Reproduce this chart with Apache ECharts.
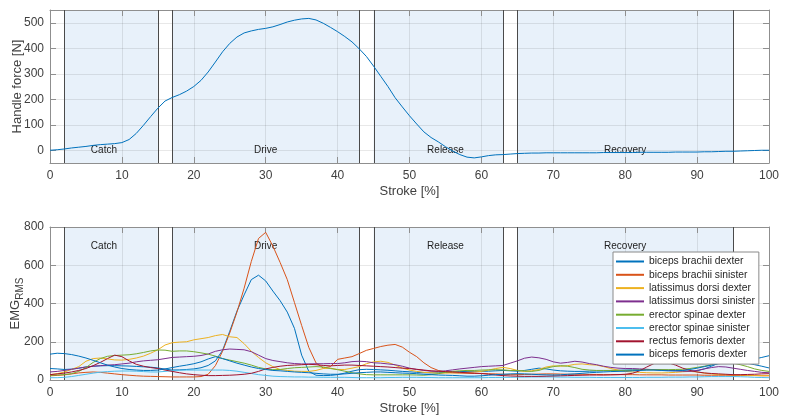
<!DOCTYPE html>
<html>
<head>
<meta charset="utf-8">
<script src="https://cdn.jsdelivr.net/npm/echarts@6/dist/echarts.min.js"></script>
<style>html,body{margin:0;padding:0;background:#fff;}#c{width:787px;height:419px;}</style>
</head>
<body>
<div id="c"></div>
<script>
// ---------- data ----------
const strokeX = Array.from({length: 101}, (_, i) => i);
const handleForce = [
  0, 2, 5, 9, 12, 15, 19, 22, 24, 26,
  30, 42, 66, 98, 132, 165, 193, 207, 218, 232,
  250, 274, 307, 346, 386, 419, 444, 460, 468, 474,
  478, 484, 493, 503, 510, 515, 517, 511, 498, 482,
  465, 446, 425, 398, 368, 330, 290, 250, 206, 170,
  135, 103, 72, 50, 33, 14, -3, -17, -27, -30,
  -26, -21, -18, -17, -15, -13, -12, -11, -11, -10,
  -10, -10, -10, -10, -10, -10, -10, -9, -9, -9,
  -9, -9, -8, -8, -8, -8, -8, -7, -7, -7,
  -7, -6, -6, -5, -4, -4, -3, -2, -1, 0,
  0
];
const emgNames = ['biceps brachii dexter', 'biceps brachii sinister', 'latissimus dorsi dexter',
  'latissimus dorsi sinister', 'erector spinae dexter', 'erector spinae sinister',
  'rectus femoris dexter', 'biceps femoris dexter'];
const bicepsBrachiiDex = [
  60, 58, 55, 57, 62, 68, 72, 74, 75, 75,
  74, 73, 71, 69, 67, 63, 57, 52, 53, 55,
  58, 64, 76, 100, 155, 255, 360, 445, 525, 548,
  518, 465, 415, 355, 270, 130, 45, 25, 23, 24,
  28, 36, 46, 54, 56, 55, 53, 51, 48, 45,
  43, 40, 38, 37, 38, 40, 42, 44, 45, 45,
  45, 46, 48, 50, 48, 46, 50, 56, 62, 58,
  52, 48, 46, 45, 45, 46, 47, 48, 50, 51,
  52, 53, 54, 54, 54, 53, 52, 50, 48, 46,
  48, 58, 72, 88, 96, 98, 95, 88, 80, 72,
  63
];
const bicepsBrachiiSin = [
  22, 24, 27, 32, 37, 40, 42, 40, 36, 32,
  28, 25, 22, 20, 19, 18, 17, 16, 16, 16,
  16, 18, 30, 75, 150, 246, 355, 480, 620, 740,
  772, 700, 615, 525, 405, 285, 170, 89, 63, 70,
  108, 115, 122, 138, 155, 165, 175, 182, 186, 172,
  145, 122, 90, 65, 50, 42, 38, 36, 35, 34,
  34, 33, 32, 30, 28, 28, 29, 30, 31, 32,
  32, 31, 30, 30, 30, 29, 29, 28, 28, 28,
  28, 28, 27, 27, 27, 27, 26, 26, 26, 26,
  26, 25, 25, 25, 25, 24, 24, 23, 23, 22,
  22
];
const latDorsiDex = [
  28, 33, 42, 55, 70, 98, 112, 115, 110, 105,
  104, 108, 115, 125, 140, 158, 183, 195, 198, 200,
  210, 216, 222, 232, 238, 226, 222, 190, 150, 118,
  90, 70, 55, 50, 46, 45, 45, 50, 60, 62,
  55, 55, 62, 70, 85, 95, 98, 92, 78, 62,
  52, 45, 40, 38, 36, 36, 37, 38, 40, 42,
  45, 52, 60, 66, 60, 50, 45, 48, 55, 68,
  74, 72, 75, 82, 84, 80, 78, 70, 60, 52,
  45, 42, 40, 38, 37, 37, 38, 40, 43, 45,
  42, 36, 32, 29, 28, 27, 26, 25, 24, 23,
  23
];
const latDorsiSin = [
  42, 45, 50, 56, 62, 68, 72, 75, 78, 80,
  84, 88, 95, 100, 103, 106, 112, 118, 120, 122,
  124, 128, 136, 150, 158, 162, 160, 158, 148, 130,
  112, 102, 96, 90, 86, 84, 84, 85, 85, 86,
  86, 90, 96, 98, 96, 90, 88, 84, 80, 72,
  62, 55, 50, 46, 45, 48, 53, 58, 62, 66,
  70, 72, 74, 76, 88, 100, 114, 120, 116, 108,
  95, 88, 92, 98, 94, 86, 80, 72, 66, 62,
  60, 60, 58, 56, 54, 52, 50, 48, 46, 45,
  50, 58, 65, 70, 68, 62, 56, 50, 45, 40,
  38
];
const erectorSpinaeDex = [
  25, 26, 28, 33, 45, 65, 92, 112, 124, 128,
  130, 132, 137, 144, 152, 157, 156, 150, 152, 152,
  148, 142, 135, 125, 112, 104, 96, 88, 78, 66,
  58, 54, 55, 60, 64, 66, 68, 70, 68, 60,
  54, 46, 38, 32, 28, 27, 27, 27, 27, 27,
  27, 26, 25, 28, 33, 40, 45, 48, 50, 50,
  52, 53, 54, 53, 50, 50, 47, 45, 50, 62,
  70, 75, 72, 65, 56, 52, 50, 50, 50, 50,
  50, 51, 52, 53, 54, 54, 54, 55, 56, 60,
  66, 72, 80, 88, 90, 88, 80, 70, 58, 50,
  45
];
const erectorSpinaeSin = [
  12, 12, 14, 18, 24, 30, 36, 41, 44, 46,
  47, 47, 46, 44, 42, 42, 45, 49, 51, 52,
  52, 52, 52, 52, 52, 50, 46, 40, 34, 28,
  24, 20, 18, 17, 16, 16, 15, 15, 14, 14,
  14, 14, 13, 12, 12, 12, 12, 13, 13, 14,
  14, 14, 13, 13, 12, 12, 12, 12, 12, 12,
  12, 13, 13, 14, 14, 15, 15, 16, 16, 16,
  16, 15, 15, 14, 14, 14, 13, 13, 13, 13,
  13, 13, 13, 14, 14, 14, 15, 15, 15, 16,
  16, 17, 18, 18, 18, 18, 17, 16, 14, 13,
  12
];
const rectusFemorisDex = [
  28, 32, 36, 42, 50, 60, 75, 92, 112, 130,
  122, 100, 82, 72, 65, 60, 52, 45, 38, 32,
  28, 25, 23, 23, 24, 25, 27, 30, 35, 45,
  58, 66, 72, 76, 78, 80, 82, 80, 76, 74,
  76, 78, 78, 76, 74, 72, 70, 68, 65, 62,
  60, 56, 52, 48, 46, 44, 42, 40, 38, 36,
  34, 30, 26, 23, 21, 20, 19, 19, 19, 20,
  21, 22, 23, 24, 25, 26, 26, 26, 27, 28,
  30, 35, 48, 68, 86, 93, 90, 78, 62, 50,
  42, 37, 34, 32, 30, 28, 28, 29, 30, 32,
  33
];
const bicepsFemorisDex = [
  135, 140, 138, 133, 125, 115, 103, 90, 78, 68,
  60, 55, 52, 50, 50, 52, 58, 65, 72, 78,
  85, 95, 110, 122, 112, 100, 88, 78, 68, 60,
  55, 50, 48, 45, 42, 40, 38, 35, 32, 30,
  30, 32, 35, 38, 40, 42, 42, 40, 38, 36,
  35, 33, 30, 28, 26, 25, 24, 22, 20, 20,
  22, 25, 28, 30, 32, 33, 32, 30, 28, 27,
  26, 27, 30, 32, 35, 38, 40, 42, 44, 45,
  46, 48, 50, 52, 52, 50, 48, 48, 50, 55,
  62, 70, 78, 85, 90, 95, 100, 105, 110, 118,
  127
];
const emgValues = [bicepsBrachiiDex, bicepsBrachiiSin, latDorsiDex, latDorsiSin,
  erectorSpinaeDex, erectorSpinaeSin, rectusFemorisDex, bicepsFemorisDex];

const phaseNames = ['Catch', 'Drive', 'Release', 'Recovery'];
const phaseStart = [2, 17, 45, 65];
const phaseEnd = [15, 43, 63, 95];
const phaseLabelX = [7.5, 30, 55, 80];
const phaseLabelYTop = 0;
const phaseLabelYBottom = 700;

const xTicks = [0, 10, 20, 30, 40, 50, 60, 70, 80, 90, 100];
const forceTicks = [0, 100, 200, 300, 400, 500];
const emgTicks = [0, 200, 400, 600, 800];

// ---------- style ----------
const FONT = 'Liberation Sans, Arial, Helvetica, sans-serif';
const colors = ['#0072BD', '#D95319', '#EDB120', '#7E2F8E', '#77AC30', '#4DBEEE', '#A2142F', '#0072BD'];
const axisGray = '#8f8f8f';
const textGray = '#404040';
const gridColor = 'rgba(0,0,0,0.09)';
const shadeColor = '#e8f1fa';

function xAxisPair(gridIndex) {
  return [{
    gridIndex, type: 'value', position: 'bottom', min: 0, max: 100, interval: 10,
    axisLine: {show: true, onZero: false, lineStyle: {color: axisGray}},
    axisTick: {show: true, inside: true, length: 6, lineStyle: {color: axisGray}},
    axisLabel: {margin: 7, fontSize: 12, color: textGray, fontFamily: FONT},
    splitLine: {show: true, lineStyle: {color: gridColor}},
    name: 'Stroke [%]', nameLocation: 'middle', nameGap: 22, nameMoveOverlap: false,
    nameTextStyle: {fontSize: 13, color: textGray, fontFamily: FONT}
  }, {
    gridIndex, type: 'value', position: 'top', min: 0, max: 100, interval: 10,
    axisLine: {show: true, onZero: false, lineStyle: {color: axisGray}},
    axisTick: {show: true, inside: true, length: 6, lineStyle: {color: axisGray}},
    axisLabel: {show: false}, splitLine: {show: false}
  }];
}

const phaseData = phaseStart.map((s, i) => [s, phaseEnd[i], phaseLabelX[i], 0]);

function shadeSeries(xi, yi) {
  return {
    type: 'custom', xAxisIndex: xi, yAxisIndex: yi, z: -2, silent: true,
    data: phaseData, encode: {x: [0, 1], y: 3},
    renderItem: function (params, api) {
      const cs = params.coordSys;
      const xs = api.coord([api.value(0), 0])[0];
      const xe = api.coord([api.value(1), 0])[0];
      return {type: 'rect', shape: {x: xs, y: cs.y, width: xe - xs, height: cs.height},
        style: {fill: shadeColor}};
    }
  };
}
function phaseLineSeries(xi, yi, labelY) {
  return {
    type: 'custom', xAxisIndex: xi, yAxisIndex: yi, z: 1, silent: true,
    data: phaseData, encode: {x: [0, 1], y: 3},
    renderItem: function (params, api) {
      const cs = params.coordSys;
      const xs = Math.round(api.coord([api.value(0), 0])[0]) + 0.5;
      const xe = Math.round(api.coord([api.value(1), 0])[0]) + 0.5;
      const lp = api.coord([api.value(2), labelY]);
      return {type: 'group', children: [
        {type: 'line', shape: {x1: xs, y1: cs.y, x2: xs, y2: cs.y + cs.height}, style: {stroke: '#4a4a4a', lineWidth: 1}},
        {type: 'line', shape: {x1: xe, y1: cs.y, x2: xe, y2: cs.y + cs.height}, style: {stroke: '#4a4a4a', lineWidth: 1}},
        {type: 'text', x: lp[0], y: lp[1], style: {text: phaseNames[params.dataIndex], fill: '#222',
          font: '10px ' + FONT, textAlign: 'center', textVerticalAlign: 'middle'}}
      ]};
    }
  };
}

const series = [
  shadeSeries(0, 0),
  {
    type: 'custom', xAxisIndex: 0, yAxisIndex: 0, z: -1, silent: true,
    data: forceTicks.map(v => [0, v]), encode: {x: 0, y: 1},
    renderItem: function (params, api) {
      const cs = params.coordSys;
      const y = Math.round(api.coord([0, api.value(1)])[1]) + 0.5;
      return {type: 'line', shape: {x1: cs.x, y1: y, x2: cs.x + cs.width, y2: y},
        style: {stroke: gridColor, lineWidth: 1}};
    }
  },
  phaseLineSeries(0, 0, phaseLabelYTop),
  {
    type: 'line', name: 'Handle force', xAxisIndex: 0, yAxisIndex: 0, z: 3,
    data: strokeX.map((x, i) => [x, handleForce[i]]),
    showSymbol: false, symbol: 'none', smooth: false,
    lineStyle: {color: '#0072BD', width: 1}, silent: true
  },
  shadeSeries(2, 2),
  phaseLineSeries(2, 2, phaseLabelYBottom)
];
emgNames.forEach((name, k) => {
  series.push({
    type: 'line', name, xAxisIndex: 2, yAxisIndex: 2, z: 3,
    data: strokeX.map((x, i) => [x, emgValues[k][i]]),
    symbol: 'none', showSymbol: false,
    lineStyle: {color: colors[k], width: 1}, itemStyle: {color: colors[k]}, silent: true
  });
});

const option = {
  animation: false,
  backgroundColor: '#fff',
  grid: [
    {left: 50, right: 18, top: 10, height: 153, containLabel: false, outerBoundsMode: 'none'},
    {left: 50, right: 18, top: 227, height: 153, containLabel: false, outerBoundsMode: 'none'}
  ],
  xAxis: [...xAxisPair(0), ...xAxisPair(1)],
  yAxis: [
    {
      gridIndex: 0, type: 'value', position: 'left', min: -50, max: 550, interval: 50,
      axisLine: {show: true, onZero: false, lineStyle: {color: axisGray}},
      axisTick: {show: true, inside: true, length: 6, lineStyle: {color: axisGray}, customValues: forceTicks},
      axisLabel: {margin: 6, fontSize: 12, color: textGray, fontFamily: FONT, customValues: forceTicks},
      splitLine: {show: false},
      name: 'Handle force [N]', nameLocation: 'middle', nameGap: 26, nameRotate: 90, nameMoveOverlap: false,
      nameTextStyle: {fontSize: 13, color: textGray, fontFamily: FONT}
    },
    {
      gridIndex: 0, type: 'value', position: 'right', min: -50, max: 550, interval: 50,
      axisLine: {show: true, onZero: false, lineStyle: {color: axisGray}},
      axisTick: {show: true, inside: true, length: 6, lineStyle: {color: axisGray}, customValues: forceTicks},
      axisLabel: {show: false}, splitLine: {show: false}
    },
    {
      gridIndex: 1, type: 'value', position: 'left', min: 0, max: 800, interval: 200,
      axisLine: {show: true, onZero: false, lineStyle: {color: axisGray}},
      axisTick: {show: true, inside: true, length: 6, lineStyle: {color: axisGray}},
      axisLabel: {margin: 6, fontSize: 12, color: textGray, fontFamily: FONT},
      splitLine: {show: true, lineStyle: {color: gridColor}},
      name: '{a|EMG}{b|RMS}', nameLocation: 'middle', nameGap: 25, nameRotate: 90, nameMoveOverlap: false,
      nameTextStyle: {color: textGray, fontFamily: FONT, rich: {
        a: {fontSize: 13, color: textGray, fontFamily: FONT, lineHeight: 20, verticalAlign: 'middle'},
        b: {fontSize: 10, color: textGray, fontFamily: FONT, lineHeight: 10, verticalAlign: 'bottom'}
      }}
    },
    {
      gridIndex: 1, type: 'value', position: 'right', min: 0, max: 800, interval: 200,
      axisLine: {show: true, onZero: false, lineStyle: {color: axisGray}},
      axisTick: {show: true, inside: true, length: 6, lineStyle: {color: axisGray}},
      axisLabel: {show: false}, splitLine: {show: false}
    }
  ],
  legend: {
    data: emgNames, orient: 'vertical', left: 613, top: 252,
    backgroundColor: '#fff', borderColor: '#8a8a8a', borderWidth: 1,
    padding: [3, 4, 3, 3], icon: 'rect', itemWidth: 28, itemHeight: 2, itemGap: 0.3,
    textStyle: {fontSize: 10.3, lineHeight: 13, color: '#262626', fontFamily: FONT},
    selectedMode: false
  },
  series
};
const chart = echarts.init(document.getElementById('c'), null, {renderer: 'canvas'});
chart.setOption(option);
</script>
</body>
</html>
